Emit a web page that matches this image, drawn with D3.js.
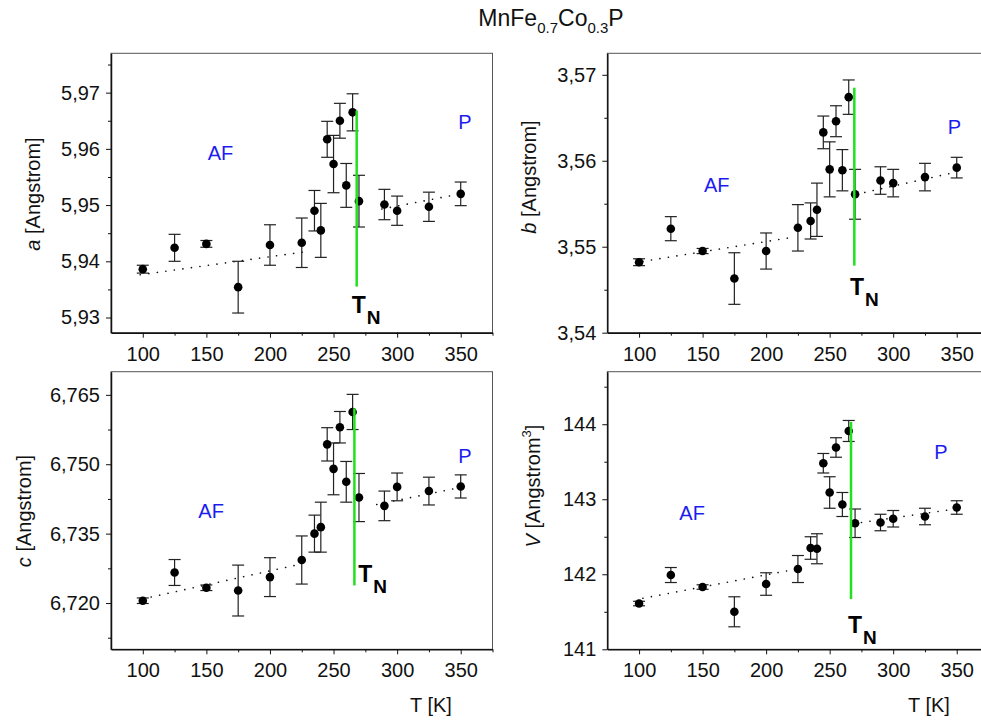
<!DOCTYPE html>
<html>
<head>
<meta charset="utf-8">
<script src="https://cdn.jsdelivr.net/npm/d3@7"></script>
<style>
  body { margin: 0; background: #fff; }
  svg { font-family: "Liberation Sans", Arial, sans-serif; }
  .tick text { font-size: 20px; fill: #111; }
  .axis path, .axis line { stroke: #111; }
</style>
</head>
<body>
<div id="chart"></div>
<script>
// temperatures (K)
var temps = [100, 125, 150, 175, 200, 225, 235, 240, 245, 250, 255, 260, 265, 270, 290, 300, 325, 350];

// lattice parameter a
var aVals = [5.9386, 5.9424, 5.9431, 5.9354, 5.9429, 5.9433, 5.9490, 5.9455, 5.9617, 5.9573, 5.9650, 5.9535, 5.9665, 5.9507, 5.9501, 5.9490, 5.9497, 5.9520];
var aErr  = [0.0007, 0.0024, 0.0006, 0.0046, 0.0036, 0.0044, 0.0036, 0.0048, 0.0032, 0.0051, 0.0031, 0.0039, 0.0033, 0.0046, 0.0027, 0.0026, 0.0026, 0.0021];
var aFitLow = [[98, 5.9376], [228, 5.9417]];
var aFitHigh = [[288, 5.9493], [350, 5.9520]];
var aTN = [268.2, 5.9668, 5.9355];

// lattice parameter b
var bVals = [3.5482, 3.5521, 3.5495, 3.5463, 3.5495, 3.5522, 3.5530, 3.5543, 3.5633, 3.5590, 3.5646, 3.5589, 3.5674, 3.5561, 3.5577, 3.5574, 3.5581, 3.5592];
var bErr  = [0.0004, 0.0014, 0.0003, 0.0030, 0.0021, 0.0027, 0.0021, 0.0031, 0.0019, 0.0032, 0.0018, 0.0024, 0.0020, 0.0029, 0.0016, 0.0016, 0.0016, 0.0012];
var bFitLow = [[103, 3.5483], [221, 3.5511]];
var bFitHigh = [[271, 3.5561], [350, 3.5587]];
var bTN = [269.4, 3.5685, 3.5478];

// lattice parameter c
var cVals = [6.7205, 6.7266, 6.7233, 6.7227, 6.7256, 6.7293, 6.7350, 6.7364, 6.7543, 6.7490, 6.7580, 6.7462, 6.7613, 6.7428, 6.7410, 6.7451, 6.7442, 6.7452];
var cErr  = [0.0006, 0.0028, 0.0006, 0.0055, 0.0042, 0.0052, 0.0040, 0.0054, 0.0036, 0.0056, 0.0034, 0.0044, 0.0038, 0.0052, 0.0032, 0.0030, 0.0030, 0.0025];
var cFitLow = [[100, 6.7209], [224, 6.7284]];
var cFitHigh = [[284, 6.7413], [350, 6.7450]];
var cTN = [266.4, 6.7621, 6.7238];

// cell volume V
var vVals = [141.61, 141.99, 141.83, 141.50, 141.87, 142.07, 142.35, 142.34, 143.48, 143.09, 143.69, 142.93, 143.91, 142.68, 142.69, 142.74, 142.77, 142.89];
var vErr  = [0.03, 0.10, 0.03, 0.20, 0.15, 0.18, 0.15, 0.20, 0.13, 0.21, 0.13, 0.16, 0.14, 0.19, 0.11, 0.11, 0.11, 0.09];
var vFitLow = [[103, 141.68], [221, 142.06]];
var vFitHigh = [[275, 142.69], [349, 142.87]];
var vTN = [266.8, 144.03, 141.67];

// axis ticks
var xMajor = [100, 150, 200, 250, 300, 350];
var xMinor = [125, 175, 225, 275, 325, 375];
var aTicks = [5.93, 5.94, 5.95, 5.96, 5.97];
var bTicks = [3.54, 3.55, 3.56, 3.57];
var cTicks = [6.720, 6.735, 6.750, 6.765];
var vTicks = [141, 142, 143, 144];

var W = 981, H = 722;
var svg = d3.select("#chart").append("svg")
    .attr("width", W)
    .attr("height", H);

var green = "#22e01e", blue = "#1c1cf0";

function comma(fmt) {
  var f = d3.format(fmt);
  return function(d) { return f(d).replace(".", ","); };
}

var panels = [
  {vals: aVals, err: aErr, fitLow: aFitLow, fitHigh: aFitHigh, tn: aTN, ticks: aTicks, minorStep: 0.005,
   domain: [5.9273, 5.977], fmt: comma(".2f"), x: 111, y: 53.3, w: 381.5, h: 279.4,
   label: "a", sup: null, labX: 40, labY: 194,
   af: [96.7, 106.7], p: [347.3, 76], tnLab: [240.7, 260], xlab: false},
  {vals: bVals, err: bErr, fitLow: bFitLow, fitHigh: bFitHigh, tn: bTN, ticks: bTicks, minorStep: 0.005,
   domain: [3.54, 3.5725], fmt: comma(".2f"), x: 607.3, y: 53.3, w: 381.2, h: 279.4,
   label: "b", sup: null, labX: 536, labY: 177,
   af: [96.7, 138.4], p: [340.4, 81], tnLab: [242.7, 241.7], xlab: false},
  {vals: cVals, err: cErr, fitLow: cFitLow, fitHigh: cFitHigh, tn: cTN, ticks: cTicks, minorStep: 0.0075,
   domain: [6.710, 6.770], fmt: comma(".3f"), x: 111, y: 371.7, w: 381.5, h: 277.6,
   label: "c", sup: null, labX: 31, labY: 511,
   af: [87.3, 146.6], p: [347.3, 91], tnLab: [247.3, 210], xlab: true, xlabX: 431},
  {vals: vVals, err: vErr, fitLow: vFitLow, fitHigh: vFitHigh, tn: vTN, ticks: vTicks, minorStep: 0.5,
   domain: [141, 144.7], fmt: d3.format("d"), x: 607.3, y: 371.7, w: 381.2, h: 277.6,
   label: "V", sup: "3", labX: 540, labY: 486,
   af: [72, 148.3], p: [327, 87.3], tnLab: [240.7, 261], xlab: true, xlabX: 929}
];

panels.forEach(function(p) {
  var g = svg.append("g").attr("transform", "translate(" + p.x + "," + p.y + ")");
  var x = d3.scaleLinear().domain([75, 375]).range([0, p.w]);
  var y = d3.scaleLinear().domain(p.domain).range([p.h, 0]);

  // frame
  g.append("rect")
    .attr("width", p.w).attr("height", p.h)
    .attr("fill", "none").attr("stroke", "#555").attr("stroke-width", 1);

  // minor ticks
  var minors = [];
  for (var v = p.ticks[0] - p.minorStep; v <= p.domain[1] + 1e-9; v += p.minorStep * 2) {
    if (v >= p.domain[0] - 1e-9) minors.push(v);
  }
  g.append("g").attr("class", "axis")
    .call(d3.axisLeft(y).tickValues(minors).tickSize(3).tickSizeOuter(0).tickFormat(""))
    .select(".domain").remove();
  g.append("g").attr("class", "axis")
    .attr("transform", "translate(0," + p.h + ")")
    .call(d3.axisBottom(x).tickValues(xMinor).tickSize(3).tickSizeOuter(0).tickFormat(""))
    .select(".domain").remove();

  // major axes
  var yAx = g.append("g").attr("class", "axis")
    .call(d3.axisLeft(y).tickValues(p.ticks).tickSize(5).tickSizeOuter(0).tickPadding(6).tickFormat(p.fmt));
  yAx.select(".domain").attr("stroke-width", 1.5);
  var xAx = g.append("g").attr("class", "axis")
    .attr("transform", "translate(0," + p.h + ")")
    .call(d3.axisBottom(x).tickValues(xMajor).tickSize(5).tickSizeOuter(0).tickPadding(9));
  xAx.select(".domain").attr("stroke-width", 1.5);

  // dotted fits
  var line = d3.line().x(function(d) { return x(d[0]); }).y(function(d) { return y(d[1]); });
  [p.fitLow, p.fitHigh].forEach(function(f) {
    g.append("path").attr("d", line(f))
      .attr("fill", "none").attr("stroke", "#111")
      .attr("stroke-width", 1.6).attr("stroke-linecap", "round")
      .attr("stroke-dasharray", "0.1,8.5");
  });

  var pts = temps.map(function(t, i) { return {t: t, v: p.vals[i], e: p.err[i]}; });

  // error bars
  var eb = g.append("g").selectAll("g").data(pts).enter().append("g")
    .attr("stroke", "#222").attr("stroke-width", 1.2);
  eb.append("line")
    .attr("x1", function(d) { return x(d.t); }).attr("x2", function(d) { return x(d.t); })
    .attr("y1", function(d) { return y(d.v - d.e); }).attr("y2", function(d) { return y(d.v + d.e); });
  [-1, 1].forEach(function(s) {
    eb.append("line")
      .attr("x1", function(d) { return x(d.t) - 6; }).attr("x2", function(d) { return x(d.t) + 6; })
      .attr("y1", function(d) { return y(d.v + s * d.e); }).attr("y2", function(d) { return y(d.v + s * d.e); });
  });

  // points
  g.append("g").selectAll("circle").data(pts).enter().append("circle")
    .attr("cx", function(d) { return x(d.t); })
    .attr("cy", function(d) { return y(d.v); })
    .attr("r", 4.3)
    .attr("fill", "#000");

  // Neel temperature line
  g.append("line")
    .attr("x1", x(p.tn[0])).attr("x2", x(p.tn[0]))
    .attr("y1", y(p.tn[1])).attr("y2", y(p.tn[2]))
    .attr("stroke", green).attr("stroke-width", 2.5);

  // phase labels
  g.append("text").attr("x", p.af[0]).attr("y", p.af[1])
    .attr("fill", blue).style("font-size", "20px").text("AF");
  g.append("text").attr("x", p.p[0]).attr("y", p.p[1])
    .attr("fill", blue).style("font-size", "20px").text("P");
  var tn = g.append("text").attr("x", p.tnLab[0]).attr("y", p.tnLab[1])
    .style("font-weight", "bold").style("font-size", "23px").attr("fill", "#000");
  tn.append("tspan").text("T");
  tn.append("tspan").attr("dy", 11).attr("dx", 1).style("font-size", "19px").text("N");

  // y label
  var yl = svg.append("text")
    .attr("transform", "translate(" + p.labX + "," + p.labY + ") rotate(-90)")
    .attr("text-anchor", "middle")
    .style("font-size", "20px").attr("fill", "#111");
  yl.append("tspan").style("font-style", "italic").text(p.label);
  yl.append("tspan").text(" [Angstrom");
  if (p.sup) {
    yl.append("tspan").attr("dy", -9).style("font-size", "13px").text(p.sup);
    yl.append("tspan").attr("dy", 9).text("]");
  } else {
    yl.append("tspan").text("]");
  }

  if (p.xlab) {
    svg.append("text").attr("x", p.xlabX).attr("y", 712)
      .attr("text-anchor", "middle").style("font-size", "20px").attr("fill", "#111")
      .text("T [K]");
  }
});

// title
var title = svg.append("text").attr("x", 551).attr("y", 26)
  .attr("text-anchor", "middle").style("font-size", "23px").attr("fill", "#111");
title.append("tspan").text("MnFe");
title.append("tspan").attr("dy", 7).style("font-size", "15px").text("0.7");
title.append("tspan").attr("dy", -7).text("Co");
title.append("tspan").attr("dy", 7).style("font-size", "15px").text("0.3");
title.append("tspan").attr("dy", -7).text("P");
</script>
</body>
</html>
